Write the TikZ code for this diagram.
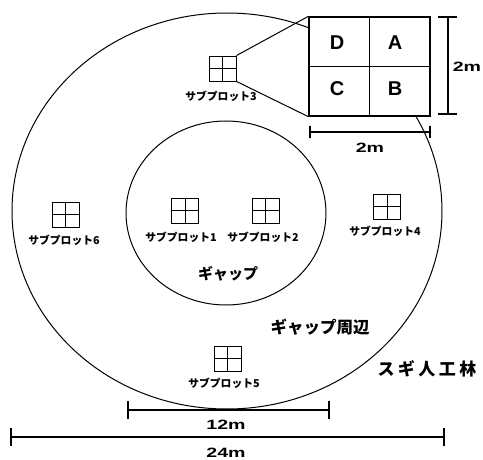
\documentclass[tikz,border=0pt]{standalone}
\usepackage{fontspec}
\usetikzlibrary{shapes.geometric}
\newfontfamily\jp{Noto Sans CJK JP}
\newfontfamily\lat{Liberation Sans}
\newcommand{\widetxt}[1]{\scalebox{1.45}[1]{#1}}
\begin{document}
\begin{tikzpicture}[x=1pt,y=-1pt,
  ring/.style={draw,line width=1pt},
  sub/.style={draw,line width=0.9pt,minimum width=27pt,minimum height=25pt,inner sep=0pt,
    path picture={\draw[line width=0.9pt] (path picture bounding box.north) -- (path picture bounding box.south)
      (path picture bounding box.west) -- (path picture bounding box.east);}},
  sublbl/.style={font=\jp\bfseries\fontsize{10.8}{10.8}\selectfont,inner sep=0pt},
  bar/.style={line width=1.6pt},
  dimlbl/.style={font=\lat\bfseries\fontsize{13.5}{13.5}\selectfont,inner sep=0pt},
  cell/.style={font=\lat\bfseries\fontsize{20}{20}\selectfont,inner sep=0pt}]
\useasboundingbox (0,0) rectangle (483,460);
% ellipses
\node[ring,ellipse,minimum width=430pt,minimum height=396pt,inner sep=0pt] (outer) at (227,211) {};
\node[ring,ellipse,minimum width=200pt,minimum height=184pt,inner sep=0pt] (inner) at (226,213) {};
% enlarged plot
\node[draw,fill=white,line width=1.3pt,minimum width=121pt,minimum height=99pt,inner sep=0pt] (big) at (369.5,66.5) {};
\draw[line width=1.1pt] (big.north) -- (big.south) (big.west) -- (big.east);
\node[cell] (D) at (337,43) {D};
\node[cell] (A) at (395,43) {A};
\node[cell] (C) at (337,89) {C};
\node[cell] (B) at (395,89) {B};
% subplots
\node[sub] (s3) at (222.5,68.5) {};
\node[sublbl] (l3) at (221,96) {サブプロット3};
\node[sub] (s6) at (65.5,214.5) {};
\node[sublbl] (l6) at (64,240) {サブプロット6};
\node[sub] (s1) at (185,210.5) {};
\node[sublbl] (l1) at (181,237) {サブプロット1};
\node[sub] (s2) at (265.5,210.5) {};
\node[sublbl] (l2) at (263,237) {サブプロット2};
\node[sub] (s4) at (387,206.5) {};
\node[sublbl] (l4) at (385,231) {サブプロット4};
\node[sub] (s5) at (227.5,358.5) {};
\node[sublbl] (l5) at (224,383) {サブプロット5};
% zoom lines
\draw[line width=1pt] (s3.north east) -- (big.north west);
\draw[line width=1pt] (s3.south east) -- (big.south west);
% area labels
\node[font=\jp\bfseries\fontsize{15}{15}\selectfont,inner sep=0pt] (gap) at (228,274) {ギャップ};
\node[font=\jp\bfseries\fontsize{16.5}{16.5}\selectfont,inner sep=0pt] (edge) at (320,327) {ギャップ周辺};
\node[font=\jp\bfseries\fontsize{17}{17}\selectfont,inner sep=0pt] (sugi) at (427,369) {ス\hspace{3.5pt}ギ\hspace{3.5pt}人\hspace{3.5pt}工\hspace{3.5pt}林};
% dimension bars
\coordinate (v1) at (448,17); \coordinate (v2) at (448,114);
\draw[bar] (v1) -- (v2);
\draw[bar] ([xshift=-10pt]v1) -- ([xshift=9pt]v1);
\draw[bar] ([xshift=-10pt]v2) -- ([xshift=9pt]v2);
\node[dimlbl] (vl) at (467,67) {\widetxt{2m}};
\coordinate (h1) at (310,132); \coordinate (h2) at (430,132);
\draw[bar] (h1) -- (h2);
\draw[bar] ([yshift=-6pt]h1) -- ([yshift=6pt]h1);
\draw[bar] ([yshift=-6pt]h2) -- ([yshift=6pt]h2);
\node[dimlbl] (hl) at (370,148) {\widetxt{2m}};
\coordinate (t1) at (128,410); \coordinate (t2) at (329,410);
\draw[bar] (t1) -- (t2);
\draw[bar] ([yshift=-9pt]t1) -- ([yshift=9pt]t1);
\draw[bar] ([yshift=-9pt]t2) -- ([yshift=9pt]t2);
\node[dimlbl] (tl) at (226,425) {\widetxt{12m}};
\coordinate (w1) at (11,437); \coordinate (w2) at (444,437);
\draw[bar] (w1) -- (w2);
\draw[bar] ([yshift=-9pt]w1) -- ([yshift=9pt]w1);
\draw[bar] ([yshift=-9pt]w2) -- ([yshift=9pt]w2);
\node[dimlbl] (wl) at (226,452.5) {\widetxt{24m}};
\end{tikzpicture}
\end{document}
